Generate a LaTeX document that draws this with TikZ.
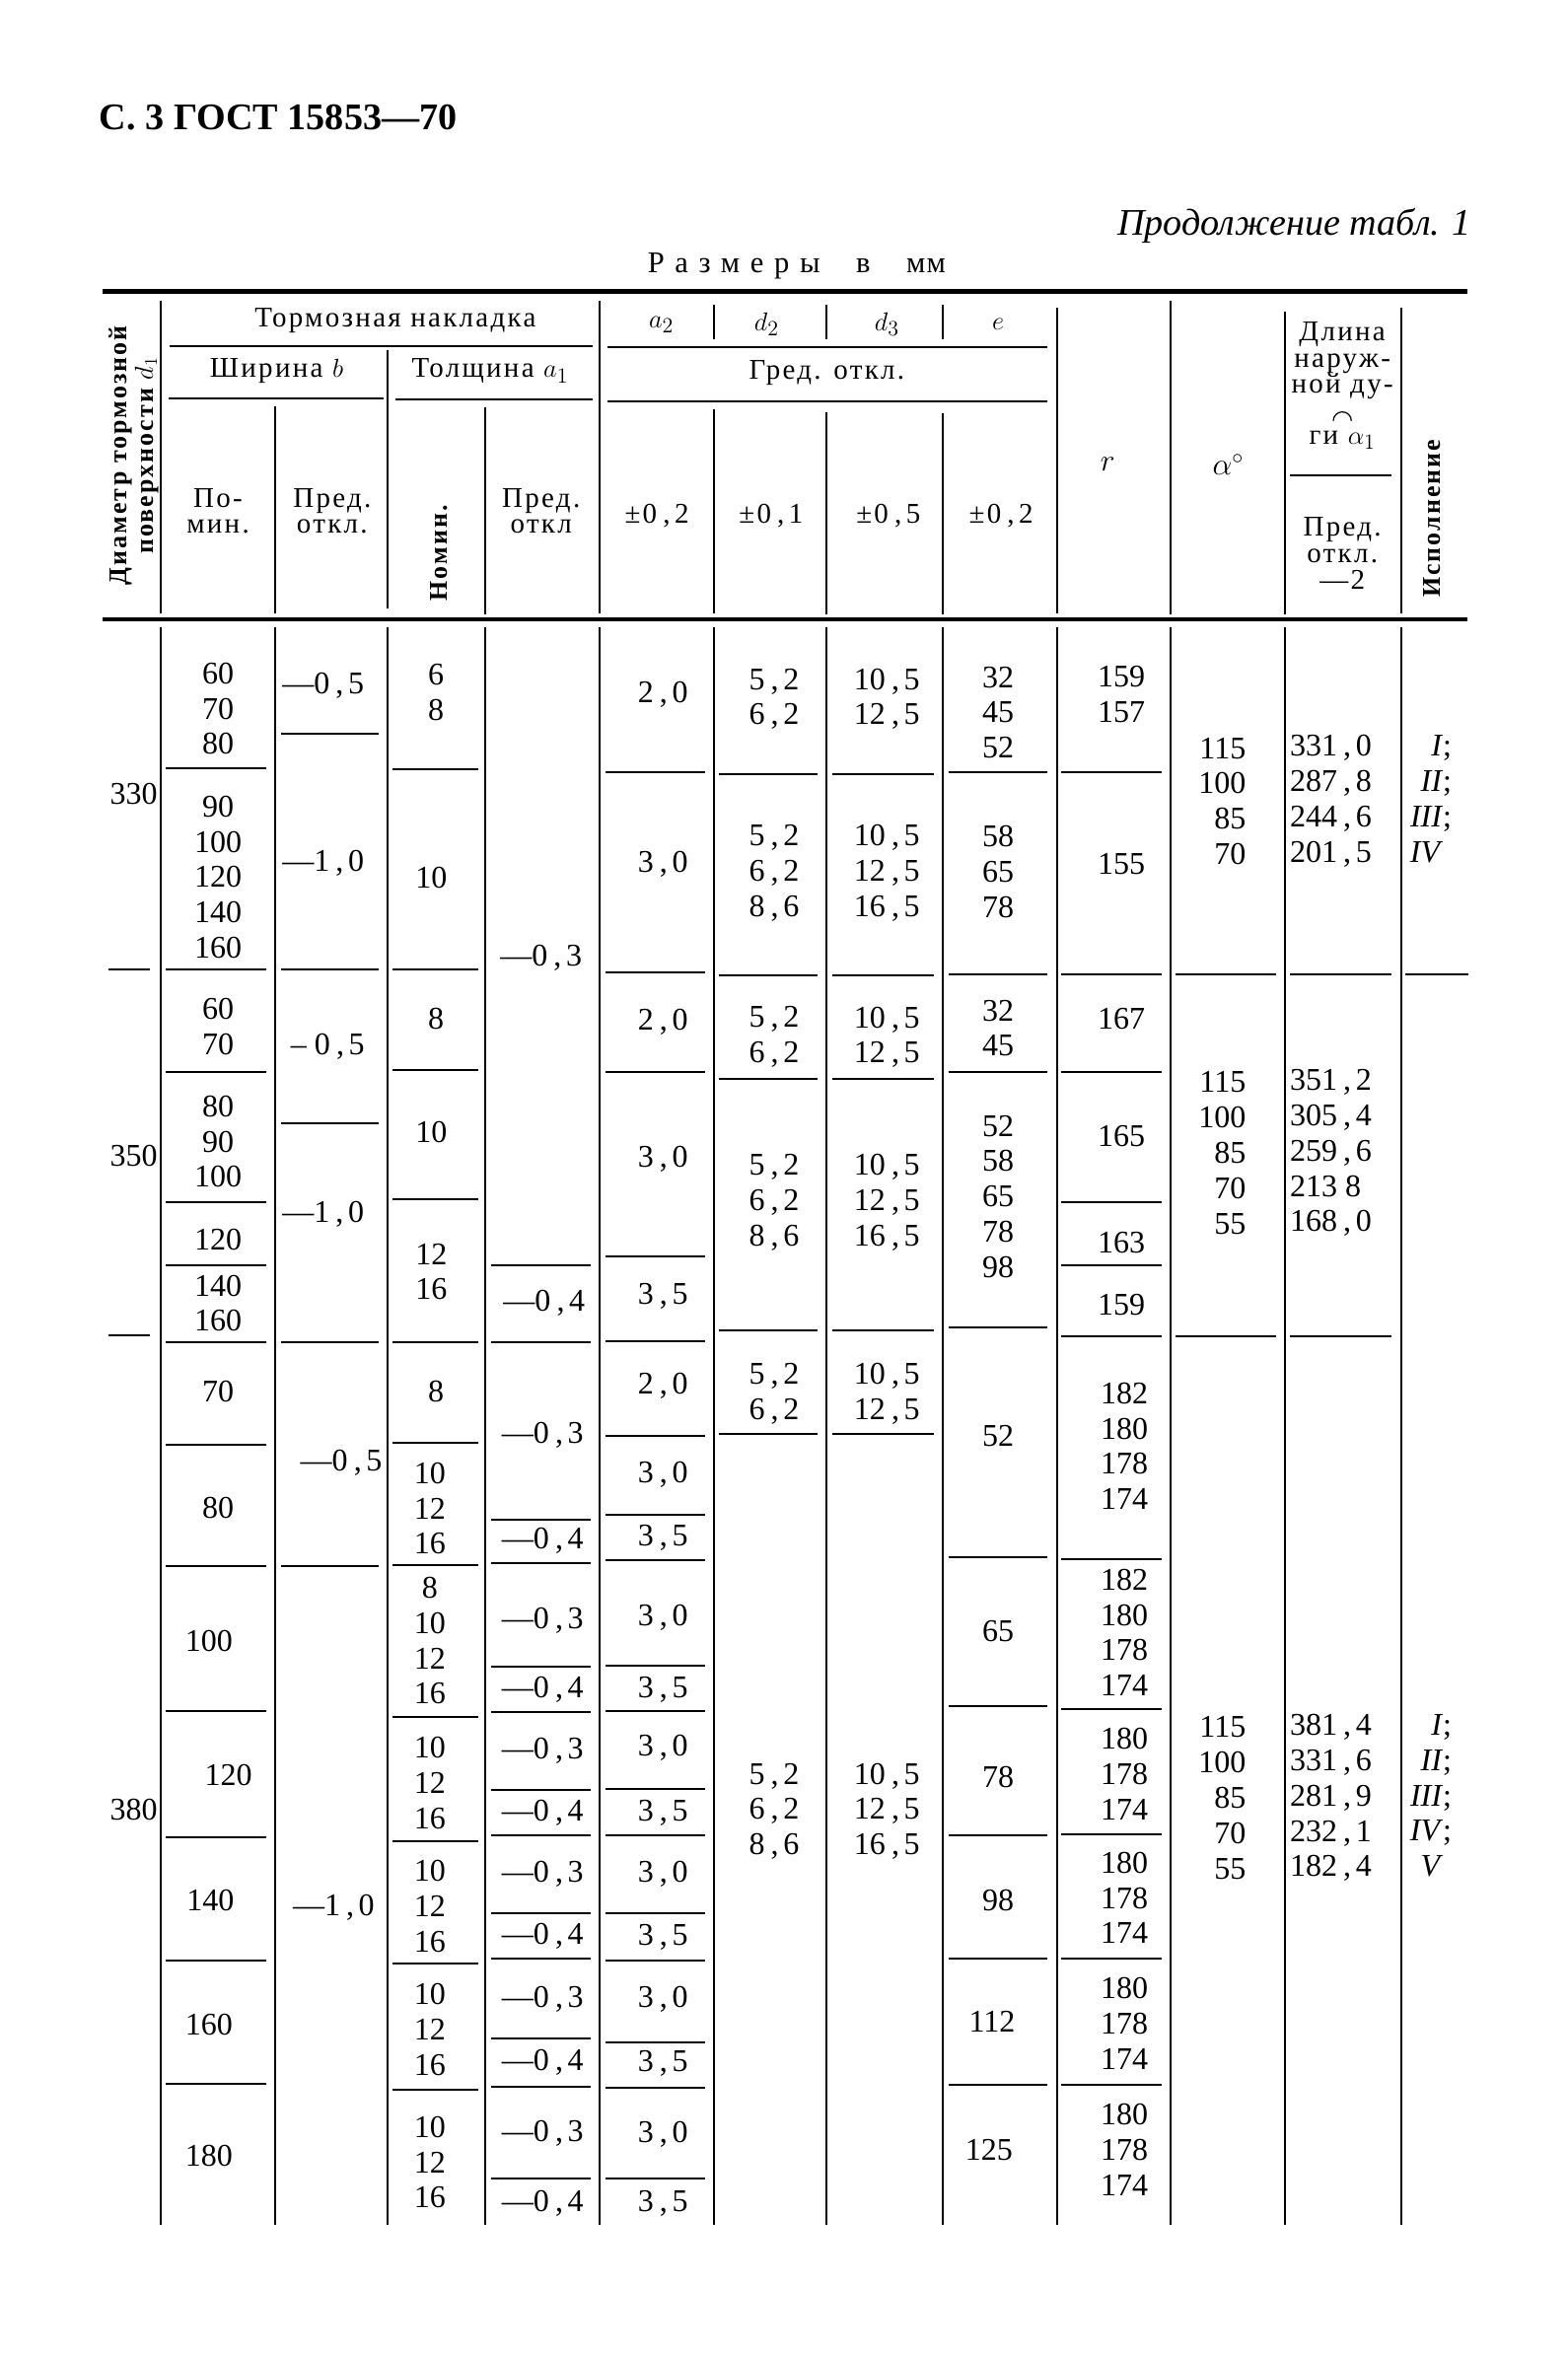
\documentclass[tikz,border=0pt]{standalone}
\usepackage{fontspec}
\setmainfont{Liberation Serif}
\newfontfamily\hdfont{Liberation Serif}[LetterSpace=8]
\newfontfamily\dimfont{Liberation Serif}[LetterSpace=35]
% wider comma in the numbers
\XeTeXinterchartokenstate=1
\newXeTeXintercharclass\commaclass
\XeTeXcharclass`\,=\commaclass
\XeTeXinterchartoks 0 \commaclass = {\kern4pt}
\XeTeXinterchartoks \commaclass 0 = {\kern3pt}
\usepackage{tikz}
\usetikzlibrary{positioning}

\begin{document}
\begin{tikzpicture}[
    x=1pt, y=-1pt,
    num/.style={font=\fontsize{21}{23.5}\selectfont, align=center, inner sep=0pt},
    hd/.style={font=\hdfont\fontsize{19}{17.5}\selectfont, align=center, inner sep=0pt},
    vhd/.style={font=\hdfont\bfseries\fontsize{17}{17.5}\selectfont, align=center, inner sep=0pt, rotate=90},
    cellrule/.style={line width=1.3pt},
    boldrule/.style={line width=3pt}
]
    \useasboundingbox (0,0) rectangle (1043,1568);

    % Page head
    \node[font=\bfseries\fontsize{25}{25}\selectfont, anchor=west, inner sep=0pt] (page) at (66,78) {С. 3 ГОСТ 15853—70};
    \node[font=\itshape\fontsize{25}{25}\selectfont, anchor=east, inner sep=0pt] (cont) at (979,150) {Продолжение табл. 1};
    \node[font=\dimfont\fontsize{20}{20}\selectfont, inner sep=0pt] (units) at (530,177) {Размеры \ в \ {\addfontfeature{LetterSpace=4}мм}};

    % Table head rules
    \draw[boldrule] (68,194) -- (976,194);
    \draw[boldrule] (68,412) -- (976,412);
    \foreach \x/\a/\b in {107/200/408, 183/270/408, 258/233/405, 323/271/409, 399/200/408,
        475/272/408, 550/274/409, 627/275/409, 703/205/408, 779/200/409, 855/207/409, 932/205/408}
        \draw[cellrule] (\x,\a) -- (\x,\b);
    \foreach \x in {475,550,627} \draw[cellrule] (\x,203) -- (\x,226);
    \draw[cellrule] (113,230) -- (394,230);
    \draw[cellrule] (404,231) -- (697,231);
    \draw[cellrule] (112,265) -- (255,265);
    \draw[cellrule] (263,266) -- (394,266);
    \draw[cellrule] (404,267) -- (697,267);
    \draw[cellrule] (858,316) -- (926,316);

    % Table head texts
    \node[vhd] (diam) at (89,303) {Диаметр тормозной\\поверхности $d_1$};
    \node[hd] (lining) at (263,213) {Тормозная накладка};
    \node[hd] (a2h) at (440,216) {$a_2$};
    \node[hd] (d2h) at (510,216) {$d_2$};
    \node[hd] (d3h) at (590,216) {$d_3$};
    \node[hd] (eh) at (664,216) {$e$};
    \node[hd] (width) at (184,247) {Ширина $b$};
    \node[hd] (thick) at (326,247) {Толщина $a_1$};
    \node[hd] (tolh) at (550,248) {Гред. откл.};
    \node[hd] (bnom) at (145,340) {По-\\мин.};
    \node[hd] (btol) at (221,340) {Пред.\\откл.};
    \node[vhd] (a1nom) at (292,368) {Номин.};
    \node[hd] (a1tol) at (360,340) {Пред.\\откл};
    \node[hd] (a2tol) at (437,343) {±0,2};
    \node[hd] (d2tol) at (513,343) {±0,1};
    \node[hd] (d3tol) at (591,343) {±0,5};
    \node[hd] (etol) at (666,343) {±0,2};
    \node[hd, font=\fontsize{21}{21}\selectfont] (rh) at (737,309) {$r$};
    \node[hd, font=\fontsize{21}{21}\selectfont] (alh) at (817,309) {$\alpha^\circ$};
    \node[hd] (lena) at (893,240) {Длина\\наруж-\\ной ду-};
    \draw[line width=0.8pt] (887,280) arc[start angle=180, end angle=360, radius=6];
    \node[hd] (lenb) at (893,293) {ги $\alpha_1$};
    \node[hd] (lentol) at (893,368) {Пред.\\откл.\\—2};
    \node[vhd] (var) at (953,345) {Исполнение};

    % Body columns
    \foreach \x in {107,183,258,323,399,475,550,627,703,779,855,932}
        \draw[cellrule] (\x,417) -- (\x,1480);

    % Body cell rules, column by column
    \foreach \y in {645,888} \draw[cellrule] (72,\y) -- (100,\y);
    \foreach \y in {511,645,713,800,842,893,961,1042,1138,1222,1304,1386}
        \draw[cellrule] (110,\y) -- (177,\y);
    \foreach \y in {488,645,747,893,1042}
        \draw[cellrule] (187,\y) -- (252,\y);
    \foreach \y in {512,645,712,798,893,960,1041,1142,1225,1306,1390}
        \draw[cellrule] (261,\y) -- (318,\y);
    \foreach \y in {842,893,1011,1040,1109,1139,1191,1221,1273,1303,1356,1388,1449}
        \draw[cellrule] (327,\y) -- (393,\y);
    \foreach \y in {514,647,713,836,892,955,1008,1038,1108,1138,1190,1221,1273,1304,1359,1389,1449}
        \draw[cellrule] (403,\y) -- (469,\y);
    \foreach \y in {515,649,718,885,954} {
        \draw[cellrule] (478,\y) -- (544,\y);
        \draw[cellrule] (554,\y) -- (621,\y);
    }
    \foreach \y in {514,648,713,883,1036,1135,1221,1303,1387}
        \draw[cellrule] (631,\y) -- (697,\y);
    \foreach \y in {514,648,713,800,842,889,1037,1137,1220,1303,1387}
        \draw[cellrule] (706,\y) -- (773,\y);
    \foreach \y in {648,889} {
        \draw[cellrule] (782,\y) -- (849,\y);
        \draw[cellrule] (858,\y) -- (926,\y);
    }
    \draw[cellrule] (935,648) -- (977,648);

    % d1 = 330
    \node[num, anchor=east] (d330) at (105,528) {330};
    \node[num] (b330a) at (145,471.5) {60\\70\\80};
    \node[num] (b330b) at (145,583.5) {90\\100\\120\\140\\160};
    \node[num] (tb330a) at (215,456) {—0,5};
    \node[num] (tb330b) at (215,574) {—1,0};
    \node[num] (n330a) at (290,460.5) {6\\8};
    \node[num] (n330b) at (287,584) {10};
    \node[num] (t330) at (360,637) {—0,3};
    \node[num] (s330a) at (441,462) {2,0};
    \node[num] (s330b) at (441,575) {3,0};
    \node[num] (p330a) at (515,465) {5,2\\6,2};
    \node[num] (p330b) at (515,581) {5,2\\6,2\\8,6};
    \node[num] (q330a) at (590,465) {10,5\\12,5};
    \node[num] (q330b) at (590,581) {10,5\\12,5\\16,5};
    \node[num] (e330a) at (664,474) {32\\45\\52};
    \node[num] (e330b) at (664,580) {58\\65\\78};
    \node[num] (r330a) at (746,462) {159\\157};
    \node[num] (r330b) at (746,575) {155};
    \node[num, align=right, anchor=east] (al330) at (829,533) {115\\100\\85\\70};
    \node[num, align=left, anchor=west] (len330) at (858,533) {331,0\\287,8\\244,6\\201,5};
    \node[num, align=right, anchor=east] (ver330) at (966,533) {\textit{I};\\\textit{II};\\\textit{III};\\\textit{IV}\phantom{;}};

    % d1 = 350
    \node[num, anchor=east] (d350) at (105,769) {350};
    \node[num] (b350a) at (145,683) {60\\70};
    \node[num] (b350b) at (145,759.5) {80\\90\\100};
    \node[num] (b350c) at (145,825) {120};
    \node[num] (b350d) at (145,867) {140\\160};
    \node[num] (tb350a) at (218,696) {– 0,5};
    \node[num] (tb350b) at (215,808) {—1,0};
    \node[num] (n350a) at (290,678) {8};
    \node[num] (n350b) at (287,753) {10};
    \node[num] (n350c) at (287,846) {12\\16};
    \node[num] (t350) at (362,867) {—0,4};
    \node[num] (s350a) at (441,680) {2,0};
    \node[num] (s350b) at (441,771) {3,0};
    \node[num] (s350c) at (441,862) {3,5};
    \node[num] (p350a) at (515,690) {5,2\\6,2};
    \node[num] (p350b) at (515,800) {5,2\\6,2\\8,6};
    \node[num] (q350a) at (590,690) {10,5\\12,5};
    \node[num] (q350b) at (590,800) {10,5\\12,5\\16,5};
    \node[num] (e350a) at (664,684) {32\\45};
    \node[num] (e350b) at (664,796) {52\\58\\65\\78\\98};
    \node[num] (r350a) at (746,678) {167};
    \node[num] (r350b) at (746,756) {165};
    \node[num] (r350c) at (746,827) {163};
    \node[num] (r350d) at (746,868) {159};
    \node[num, align=right, anchor=east] (al350) at (829,767) {115\\100\\85\\70\\55};
    \node[num, align=left, anchor=west] (len350) at (858,767) {351,2\\305,4\\259,6\\213 8\\168,0};

    % d1 = 380
    \node[num, anchor=east] (d380) at (105,1204) {380};
    \node[num] (b380a) at (145,926) {70};
    \node[num] (b380b) at (145,1003) {80};
    \node[num] (b380c) at (139,1092) {100};
    \node[num] (b380d) at (152,1181) {120};
    \node[num] (b380e) at (140,1264) {140};
    \node[num] (b380f) at (139,1347) {160};
    \node[num] (b380g) at (139,1434) {180};
    \node[num] (tb380a) at (227,973) {—0,5};
    \node[num] (tb380b) at (222,1269) {—1,0};
    \node[num] (n380a) at (290,926) {8};
    \node[num] (n380b) at (286,1003.5) {10\\12\\16};
    \node[num] (n380c) at (286,1091.5) {8\\10\\12\\16};
    \node[num] (n380d) at (286,1186) {10\\12\\16};
    \node[num] (n380e) at (286,1268) {10\\12\\16};
    \node[num] (n380f) at (286,1350) {10\\12\\16};
    \node[num] (n380g) at (286,1438.5) {10\\12\\16};
    \foreach \y/\v [count=\i] in {955/{—0,3},1025/{—0,4},1078/{—0,3},1124/{—0,4},1165/{—0,3},1206/{—0,4},
        1247/{—0,3},1288/{—0,4},1330/{—0,3},1372/{—0,4},1419/{—0,3},1466/{—0,4}}
        \node[num] (t380-\i) at (361,\y) {\v};
    \foreach \y/\v [count=\i] in {922/{2,0},981/{3,0},1023/{3,5},1076/{3,0},1124/{3,5},1163/{3,0},1206/{3,5},
        1247/{3,0},1289/{3,5},1330/{3,0},1373/{3,5},1420/{3,0},1466/{3,5}}
        \node[num] (s380-\i) at (441,\y) {\v};
    \node[num] (p380a) at (515,927) {5,2\\6,2};
    \node[num] (p380b) at (515,1205) {5,2\\6,2\\8,6};
    \node[num] (q380a) at (590,927) {10,5\\12,5};
    \node[num] (q380b) at (590,1205) {10,5\\12,5\\16,5};
    \node[num] (e380a) at (664,955) {52};
    \node[num] (e380b) at (664,1085) {65};
    \node[num] (e380c) at (664,1182) {78};
    \node[num] (e380d) at (664,1264) {98};
    \node[num] (e380e) at (660,1345) {112};
    \node[num] (e380f) at (658,1430) {125};
    \node[num] (r380a) at (748,962) {182\\180\\178\\174};
    \node[num] (r380b) at (748,1086) {182\\180\\178\\174};
    \node[num] (r380c) at (748,1180) {180\\178\\174};
    \node[num] (r380d) at (748,1262.5) {180\\178\\174};
    \node[num] (r380e) at (748,1346) {180\\178\\174};
    \node[num] (r380f) at (748,1430) {180\\178\\174};
    \node[num, align=right, anchor=east] (al380) at (829,1196) {115\\100\\85\\70\\55};
    \node[num, align=left, anchor=west] (len380) at (858,1196) {381,4\\331,6\\281,9\\232,1\\182,4};
    \node[num, align=right, anchor=east] (ver380) at (966,1196) {\textit{I};\\\textit{II};\\\textit{III};\\\textit{IV};\\\textit{V}\phantom{;}};
\end{tikzpicture}
\end{document}
